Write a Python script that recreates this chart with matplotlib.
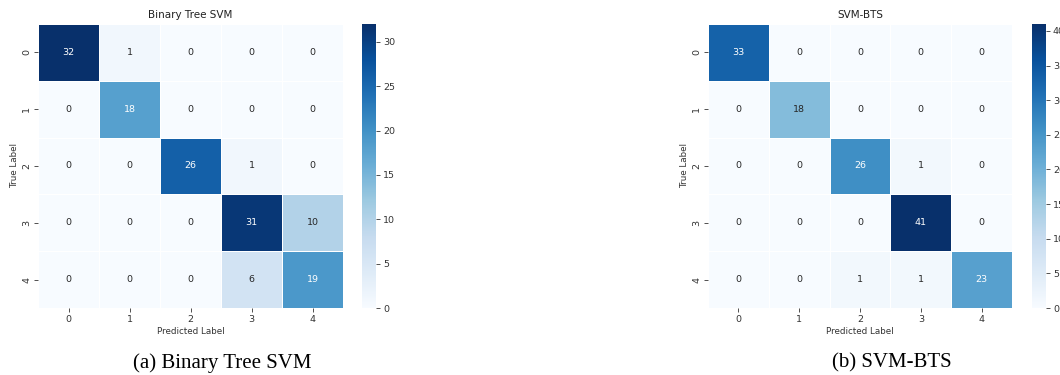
import matplotlib
matplotlib.use('Agg')
import matplotlib.pyplot as plt
import seaborn as sns
import numpy as np

# confusion matrices of the two classifiers
class_labels = ['0', '1', '2', '3', '4']

cm_binary_tree = np.array([[32, 1, 0, 0, 0],
                           [0, 18, 0, 0, 0],
                           [0, 0, 26, 1, 0],
                           [0, 0, 0, 31, 10],
                           [0, 0, 0, 6, 19]])

cm_svm_bts = np.array([[33, 0, 0, 0, 0],
                       [0, 18, 0, 0, 0],
                       [0, 0, 26, 1, 0],
                       [0, 0, 0, 41, 0],
                       [0, 0, 1, 1, 23]])

titles = ['Binary Tree SVM', 'SVM-BTS']
captions = ['(a) Binary Tree SVM', '(b) SVM-BTS']

W, H = 1060., 375.
fig = plt.figure(figsize=(W / 100, H / 100), dpi=100)

def px_axes(x0, y0, x1, y1):
    return fig.add_axes([x0 / W, 1 - y1 / H, (x1 - x0) / W, (y1 - y0) / H])

txt = '#333333'
panels = [(38, 343, 362, 376, 222), (708, 1012, 1032, 1046, 892)]

for cm, title, cap, (hx0, hx1, cx0, cx1, capx) in zip([cm_binary_tree, cm_svm_bts], titles, captions, panels):
    ax = px_axes(hx0, 24, hx1, 308)
    cax = px_axes(cx0, 24, cx1, 308)
    sns.heatmap(cm, annot=True, fmt='d', cmap='Blues', ax=ax, cbar_ax=cax,
                linewidths=0.6, linecolor='white',
                xticklabels=class_labels, yticklabels=class_labels,
                annot_kws={'fontsize': 6.8})
    ax.set_title(title, fontsize=7.5, color='#222222', pad=4)
    ax.set_xlabel('Predicted Label', fontsize=6.3, color=txt, labelpad=2)
    ax.set_ylabel('True Label', fontsize=6.3, color=txt, labelpad=2)
    ax.tick_params(axis='both', labelsize=6.8, colors=txt, length=3, width=0.6, pad=2)
    ax.set_yticklabels(class_labels, rotation=90, va='center')
    cax.tick_params(labelsize=6.8, colors=txt, length=3, width=0.6, pad=2)
    for s in cax.spines.values():
        s.set_visible(False)
    fig.text(capx / W, 1 - 363 / H, cap, ha='center', va='center',
             fontsize=15, family='Liberation Serif', color='black')

fig.savefig('out.png', dpi=100)
